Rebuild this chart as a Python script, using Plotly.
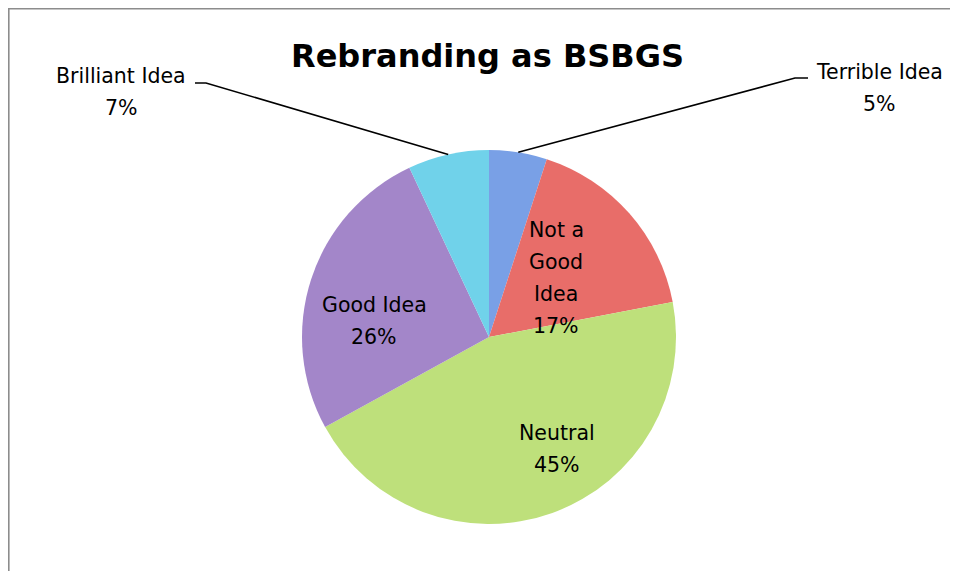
import math
import plotly.graph_objects as go

# ---- data ----
categories = ["Terrible Idea", "Not a Good Idea", "Neutral", "Good Idea", "Brilliant Idea"]
values = [5, 17, 45, 26, 7]
label_lines = [
    ["Terrible Idea", "5%"],
    ["Not a", "Good", "Idea", "17%"],
    ["Neutral", "45%"],
    ["Good Idea", "26%"],
    ["Brilliant Idea", "7%"],
]
slice_colors = ["#79A0E6", "#E86D69", "#BEE07B", "#A386C9", "#70D2EA"]
title_text = "Rebranding as BSBGS"

# page body has an 8px margin, so the figure is drawn inside it
OFF = 8
W, H = 958 - 2 * OFF, 579 - 2 * OFF
FONT = "DejaVu Sans, sans-serif"

# pie geometry (screen pixels)
cx, cy, R = 489, 337, 187


def px(x):
    return (x - OFF) / W


def py(y):
    return 1 - (y - OFF) / H


fig = go.Figure(go.Pie(
    labels=categories,
    values=values,
    sort=False,
    direction="clockwise",
    rotation=0,
    marker=dict(colors=slice_colors, line=dict(width=0)),
    textinfo="none",
    hoverinfo="label+percent",
    domain=dict(x=[px(cx - R), px(cx + R)], y=[py(cy + R), py(cy - R)]),
    showlegend=False,
))

# label placement: centre x and y of first line (screen pixels), line step
label_pos = {
    "Terrible Idea": (879, 72),
    "Not a Good Idea": (556, 229.5),
    "Neutral": (557, 433),
    "Good Idea": (374, 305),
    "Brilliant Idea": (121, 76),
}
LINE_STEP = 32.3

annotations = []
for cat, lines in zip(categories, label_lines):
    x0, y0 = label_pos[cat]
    for i, line in enumerate(lines):
        annotations.append(dict(
            x=px(x0), y=py(y0 + i * LINE_STEP), xref="paper", yref="paper",
            text=line, showarrow=False, xanchor="center", yanchor="middle",
            font=dict(family=FONT, size=20.5, color="#000000"),
        ))

annotations.append(dict(
    x=px(487.5), y=py(56), xref="paper", yref="paper",
    text=f"<b>{title_text}</b>", showarrow=False,
    xanchor="center", yanchor="middle",
    font=dict(family=FONT, size=32, color="#000000"),
))

# leader lines from slice mid-angle on the rim to the outside labels
total = sum(values)
cum = 0
mid_angle = {}
for cat, v in zip(categories, values):
    mid_angle[cat] = (cum + v / 2) / total * 360
    cum += v


def rim_point(cat):
    a = math.radians(mid_angle[cat])
    return cx + R * math.sin(a), cy - R * math.cos(a)


shapes = []
leader_ends = {
    "Terrible Idea": [(795, 78), (808, 78)],
    "Brilliant Idea": [(206, 83), (195, 83)],
}
for cat, pts in leader_ends.items():
    sx, sy = rim_point(cat)
    path = f"M {px(sx)},{py(sy)}"
    for (x, y) in pts:
        path += f" L {px(x)},{py(y)}"
    shapes.append(dict(type="path", xref="paper", yref="paper", path=path,
                       line=dict(color="#000000", width=1.6)))

# chart border (top and left edges visible)
shapes.append(dict(type="path", xref="paper", yref="paper",
                   path=f"M {px(8.8)},{py(600)} L {px(8.8)},{py(8.8)} L {px(990)},{py(8.8)}",
                   line=dict(color="#8C8C8C", width=1.6)))

fig.update_layout(
    width=W, height=H,
    margin=dict(l=0, r=0, t=0, b=0),
    paper_bgcolor="#FFFFFF",
    plot_bgcolor="#FFFFFF",
    annotations=annotations,
    shapes=shapes,
)

fig.write_html("out.html")
